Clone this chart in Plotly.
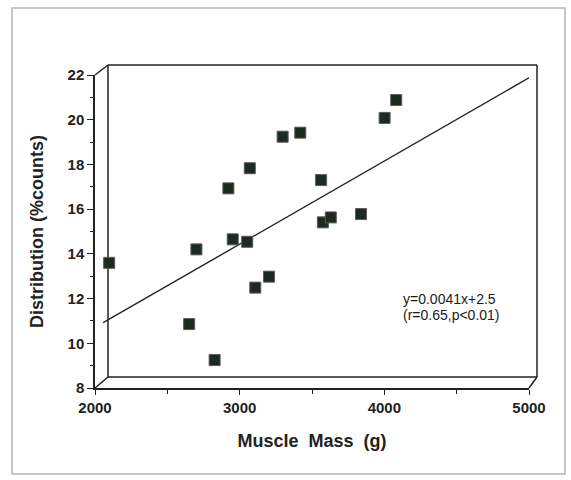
import plotly.graph_objects as go

# Data
muscle_mass = [2098, 2651, 2701, 2827, 2922, 2952, 3052, 3070, 3108, 3203,
               3297, 3419, 3563, 3575, 3630, 3839, 4002, 4082]
distribution = [13.60, 10.86, 14.20, 9.25, 16.93, 14.65, 14.54, 17.83, 12.49, 12.98,
                19.24, 19.42, 17.30, 15.41, 15.63, 15.78, 20.08, 20.88]
fit_x = [2056, 5012]
fit_y = [10.92, 21.92]
equation_lines = ["y=0.0041x+2.5", "(r=0.65,p<0.01)"]
x_ticks = [2000, 3000, 4000, 5000]
y_ticks = [8, 10, 12, 14, 16, 18, 20, 22]

W, H = 571, 480
L, R, T, B = 95, 529, 75, 388  # plot area in px


def px(x, y):
    return (x - L) / (R - L), (B - y) / (B - T)


fig = go.Figure()
fig.add_trace(go.Scatter(x=fit_x, y=fit_y, mode="lines",
                         line=dict(color="#222", width=1.4), hoverinfo="skip",
                         cliponaxis=False))
fig.add_trace(go.Scatter(x=muscle_mass, y=distribution, mode="markers",
                         marker=dict(symbol="square", size=11, color="#1c2a20",
                                     line=dict(color="#5a5a5a", width=1)),
                         cliponaxis=False))

shapes = []
line_style = dict(color="#222", width=1.5)


def seg(p0, p1, style=line_style):
    x0, y0 = px(*p0)
    x1, y1 = px(*p1)
    shapes.append(dict(type="line", xref="paper", yref="paper",
                       x0=x0, y0=y0, x1=x1, y1=y1, line=style, layer="below"))


# back wall
bl, br, bt, bb = 108, 537, 65, 377
seg((bl, bt), (br, bt))
seg((br, bt), (br, bb))
seg((bl, bb), (br, bb))
seg((bl, bt), (bl, bb))
# diagonals
seg((L, T), (bl, bt))
seg((L, B), (bl, bb))
seg((R, B), (br, bb))
# outer border
x0, y0 = px(12, 474)
x1, y1 = px(565, 8)
shapes.append(dict(type="rect", xref="paper", yref="paper", x0=x0, y0=y0,
                   x1=x1, y1=y1, line=dict(color="#b5b5b5", width=1.5), layer="below"))

FAM = "Liberation Sans, Arial, sans-serif"

fig.update_layout(
    width=W, height=H,
    margin=dict(l=L, r=W - R, t=T, b=H - B),
    paper_bgcolor="white", plot_bgcolor="white",
    showlegend=False,
    shapes=shapes,
    xaxis=dict(range=[2000, 5000], tickvals=x_ticks, ticks="outside", ticklen=5,
               tickwidth=1.3, tickcolor="#222", showline=True, linecolor="#222",
               linewidth=1.5, showgrid=False, zeroline=False,
               tickfont=dict(family=FAM, size=15, color="#222", weight="bold"),
               minor=dict(ticks="outside", ticklen=4, dtick=500, tick0=2000,
                          tickcolor="#222", showgrid=False),
               title=dict(text="Muscle  Mass  (g)", standoff=20,
                          font=dict(family=FAM, size=18, color="#222", weight="bold"))),
    yaxis=dict(range=[8, 22], tickvals=y_ticks, ticks="outside", ticklen=6,
               tickwidth=1.3, tickcolor="#222", showline=True, linecolor="#222",
               linewidth=1.5, showgrid=False, zeroline=False,
               tickfont=dict(family=FAM, size=15, color="#222", weight="bold"),
               minor=dict(ticks="outside", ticklen=3, dtick=1, tick0=8,
                          tickcolor="#222", showgrid=False),
               title=dict(text="Distribution (%counts)", standoff=19,
                          font=dict(family=FAM, size=18, color="#222", weight="bold"))),
)

for i, txt in enumerate(equation_lines):
    ax, ay = px(401, 299 + 16 * i)
    fig.add_annotation(x=ax, y=ay, xref="paper", yref="paper", text=txt,
                       showarrow=False, xanchor="left", yanchor="middle", align="left",
                       font=dict(family=FAM, size=14, color="#1a1a1a"))

fig.write_html("out.html", config={"displayModeBar": False},
               post_script="document.body.style.margin='0';")
